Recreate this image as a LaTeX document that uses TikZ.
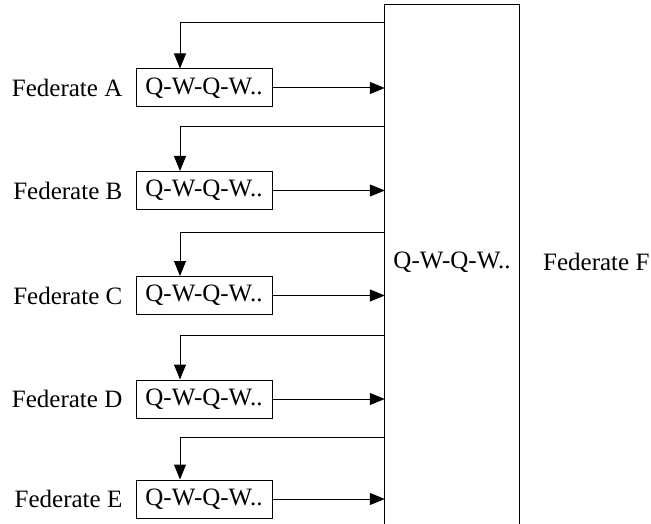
\documentclass[tikz,border=0pt]{standalone}
\usepackage{fontspec}
\setmainfont{Liberation Serif}
\usetikzlibrary{arrows.meta}
\begin{document}
\begin{tikzpicture}[x=1pt,y=-1pt,
  every node/.style={font=\fontsize{25}{29}\selectfont, inner sep=0pt},
  qbox/.style={draw, line width=1pt, minimum width=136pt, minimum height=38pt},
  fedlabel/.style={anchor=east, xshift=-13pt},
  link/.style={line width=1pt, -{Triangle[length=15pt,width=12pt]}}]
\useasboundingbox (0,0) rectangle (651,524);

% shared federate F, open at the bottom
\node[minimum width=134pt, minimum height=519pt] (F) at (452,264.5) {};
\node at (452,262) (Ftext) {Q-W-Q-W..};
\draw[line width=1pt] (F.south west) -- (F.north west) -- (F.north east) -- (F.south east);
\node[anchor=west] (Flabel) at (543,262) {Federate F};

% federates A..E with their queues; \f is the height of the return line
\foreach \n/\y/\f in {A/88/23, B/190.5/127, C/295.5/232, D/399/335, E/499/437}{
  \node[qbox] (q\n) at (204,\y) {Q-W-Q-W..};
  \node[fedlabel] (l\n) at (q\n.west) {Federate \n};
  \coordinate (r\n) at (0,\f);
  \draw[link] (q\n.east) -- (q\n.east -| F.west);
  \draw[link] (r\n -| F.west) -| ([xshift=-24pt]q\n.north);
}
\end{tikzpicture}
\end{document}
